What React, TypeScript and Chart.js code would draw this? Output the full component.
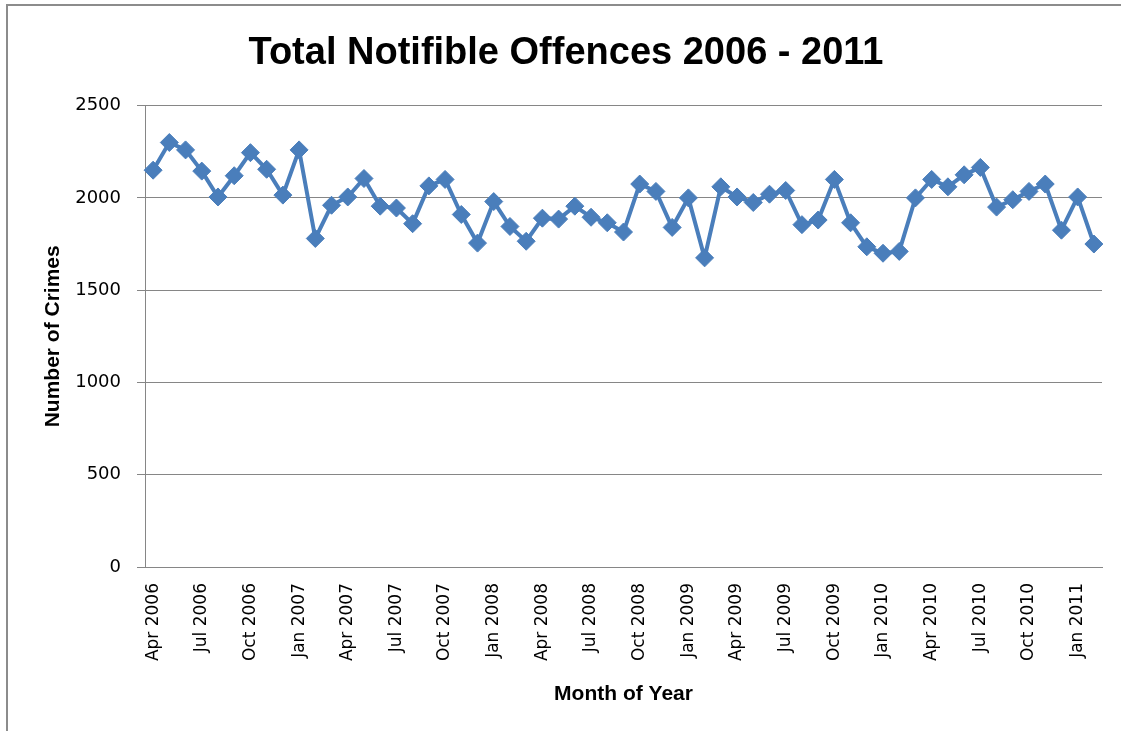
import React, { useEffect, useRef } from "react";
import { Chart, registerables } from "chart.js";

Chart.register(...registerables);

const monthLabels: string[] = [
  "Apr 2006", "May 2006", "Jun 2006", "Jul 2006", "Aug 2006", "Sep 2006", "Oct 2006", "Nov 2006", "Dec 2006",
  "Jan 2007", "Feb 2007", "Mar 2007", "Apr 2007", "May 2007", "Jun 2007", "Jul 2007", "Aug 2007", "Sep 2007",
  "Oct 2007", "Nov 2007", "Dec 2007", "Jan 2008", "Feb 2008", "Mar 2008", "Apr 2008", "May 2008", "Jun 2008",
  "Jul 2008", "Aug 2008", "Sep 2008", "Oct 2008", "Nov 2008", "Dec 2008", "Jan 2009", "Feb 2009", "Mar 2009",
  "Apr 2009", "May 2009", "Jun 2009", "Jul 2009", "Aug 2009", "Sep 2009", "Oct 2009", "Nov 2009", "Dec 2009",
  "Jan 2010", "Feb 2010", "Mar 2010", "Apr 2010", "May 2010", "Jun 2010", "Jul 2010", "Aug 2010", "Sep 2010",
  "Oct 2010", "Nov 2010", "Dec 2010", "Jan 2011", "Feb 2011",
];

const crimeCounts: number[] = [
  2150, 2300, 2260, 2145, 2005, 2120, 2245, 2155, 2015, 2260,
  1780, 1960, 2005, 2105, 1955, 1945, 1860, 2065, 2100, 1910,
  1755, 1980, 1845, 1765, 1890, 1885, 1955, 1895, 1865, 1815,
  2075, 2035, 1840, 2000, 1675, 2060, 2005, 1975, 2020, 2040,
  1855, 1880, 2100, 1865, 1735, 1700, 1710, 2000, 2100, 2060,
  2125, 2165, 1950, 1990, 2035, 2075, 1825, 2005, 1750,
];

const yTickValues: number[] = [0, 500, 1000, 1500, 2000, 2500];

const chartTitle = "Total Notifible Offences 2006 - 2011";
const xAxisTitle = "Month of Year";
const yAxisTitle = "Number of Crimes";

const LINE_COLOR = "#4A7EBB";
const GRID_COLOR = "#868686";

export default function App() {
  const canvasRef = useRef<HTMLCanvasElement | null>(null);

  useEffect(() => {
    const canvas = canvasRef.current;
    if (!canvas) return;
    const chart = new Chart(canvas, {
      type: "line",
      data: {
        labels: monthLabels,
        datasets: [
          {
            label: "Total Notifible Offences",
            data: crimeCounts,
            borderColor: LINE_COLOR,
            backgroundColor: LINE_COLOR,
            borderWidth: 4,
            pointStyle: "rectRot",
            pointRadius: 9,
            pointBorderWidth: 1,
            pointBackgroundColor: LINE_COLOR,
            pointBorderColor: LINE_COLOR,
            tension: 0,
          },
        ],
      },
      options: {
        responsive: false,
        animation: false,
        layout: { padding: { left: 30, right: 19, top: 0, bottom: 0 } },
        plugins: {
          legend: { display: false },
          tooltip: { enabled: false },
          title: {
            display: true,
            text: chartTitle,
            color: "#000",
            font: { family: "'Liberation Sans', Arial, sans-serif", size: 38, weight: "bold" },
            padding: { top: 31, bottom: 29 },
          },
        },
        scales: {
          x: {
            type: "category",
            offset: true,
            grid: { display: false, drawTicks: false },
            border: { display: true, color: GRID_COLOR, width: 1 },
            ticks: {
              autoSkip: false,
              maxRotation: 90,
              minRotation: 90,
              padding: 16,
              color: "#000",
              font: { family: "'DejaVu Sans', sans-serif", size: 17 },
              callback: (_v: any, i: number) => (i % 3 === 0 ? monthLabels[i] : ""),
            },
            title: {
              display: true,
              text: xAxisTitle,
              color: "#000",
              font: { family: "'Liberation Sans', Arial, sans-serif", size: 21, weight: "bold" },
              padding: { top: 0, bottom: 24 },
            },
            afterFit: (scale: any) => {
              scale.height = 164;
              scale.paddingLeft = 0;
              scale.paddingRight = 0;
            },
          },
          y: {
            min: 0,
            max: 2500,
            afterBuildTicks: (scale: any) => {
              scale.ticks = yTickValues.map((v) => ({ value: v }));
            },
            grid: { color: GRID_COLOR, lineWidth: 1, tickLength: 8 },
            border: { display: true, color: GRID_COLOR, width: 1 },
            ticks: {
              padding: 16,
              color: "#000",
              font: { family: "'DejaVu Sans', sans-serif", size: 18 },
              callback: (v: any) => String(v),
            },
            title: {
              display: true,
              text: yAxisTitle,
              color: "#000",
              font: { family: "'Liberation Sans', Arial, sans-serif", size: 21, weight: "bold" },
              padding: { top: 11, bottom: 0 },
            },
            afterFit: (scale: any) => {
              scale.width = 115;
            },
          },
        },
      },
    });
    return () => chart.destroy();
  }, []);

  return (
    <div style={{ position: "absolute", left: 0, top: 0, width: 1121, height: 731, background: "#fff", overflow: "hidden" }}>
      <div
        style={{
          position: "absolute",
          left: 6,
          top: 4,
          width: 1121,
          height: 740,
          borderLeft: "2px solid #8c8c8c",
          borderTop: "2px solid #8c8c8c",
          boxSizing: "border-box",
        }}
      />
      <canvas ref={canvasRef} width={1121} height={731} style={{ position: "absolute", left: 0, top: 0, display: "block" }} />
    </div>
  );
}
